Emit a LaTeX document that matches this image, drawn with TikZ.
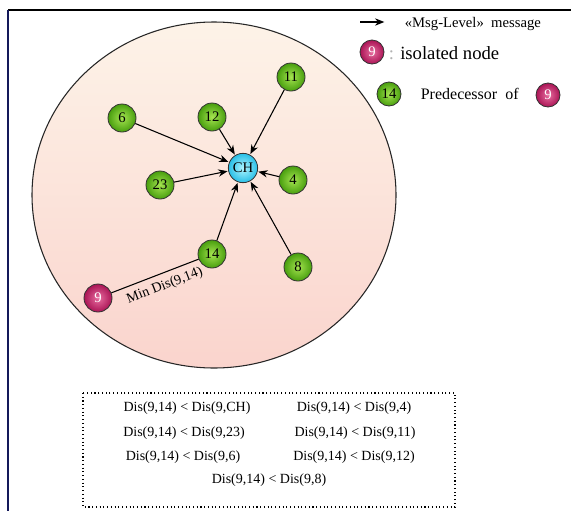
\documentclass[tikz,border=0pt]{standalone}
\usepackage{fontspec}
\setmainfont{Liberation Serif}
\usetikzlibrary{arrows.meta}

\begin{document}
\begin{tikzpicture}[x=0.75pt,y=-0.75pt,line width=0.6pt,
  pred/.style={circle,draw=black!80,inner sep=0pt,minimum size=21pt,
    inner color={rgb,255:red,165;green,228;blue,80},
    outer color={rgb,255:red,72;green,158;blue,14},font=\fontsize{11}{13}\selectfont},
  iso/.style={circle,draw=black!80,inner sep=0pt,minimum size=21pt,text=white,
    inner color={rgb,255:red,232;green,110;blue,160},
    outer color={rgb,255:red,170;green,20;blue,85},font=\fontsize{11}{13}\selectfont},
  head/.style={circle,draw=black!80,inner sep=0pt,minimum size=22pt,
    inner color={rgb,255:red,175;green,245;blue,255},
    outer color={rgb,255:red,40;green,190;blue,230},font=\fontsize{11}{13}\selectfont},
  msg/.style={line width=0.8pt,-{Stealth[length=7pt,width=5.5pt]},shorten >=0.5pt},
  rel/.style={font=\fontsize{10.5}{12}\selectfont}]
  \useasboundingbox (0,0) rectangle (571,511);
  % frame
  \draw[line width=1.6pt] (8,10) -- (571,10);
  \draw[line width=1.2pt,color={rgb,255:red,20;green,25;blue,90}] (8,10) -- (8,511);
  % cluster area
  \shade[top color={rgb,255:red,253;green,243;blue,232},bottom color={rgb,255:red,250;green,212;blue,205}]
    (214,195) ellipse (182 and 173);
  \draw[black!85,line width=0.8pt] (214,195) ellipse (182 and 173);
  % nodes
  \node[head] (ch) at (243,168) {CH};
  \node[pred] (n6) at (122,118) {6};
  \node[pred] (n12) at (212,117) {12};
  \node[pred] (n11) at (291,77) {11};
  \node[pred] (n4) at (293,180) {4};
  \node[pred] (n23) at (160,185) {23};
  \node[pred] (n14) at (212,254) {14};
  \node[pred] (n8) at (298,267) {8};
  \node[iso] (n9) at (98,298) {9};
  % messages
  \foreach \s in {n6,n12,n11,n4,n23,n14,n8}
    \draw[msg] (\s) -- (ch);
  \draw[line width=0.8pt] (n9) -- (n14) node[pos=0.56,sloped,below=1pt,rel] {Min Dis(9,14)};
  % legend
  \coordinate (la) at (360,22);
  \coordinate (lb) at (385,22);
  \draw[msg] (la) -- (lb);
  \node[anchor=west,font=\fontsize{11}{13}\selectfont] (lmsg) at (400,24) {«Msg-Level»\ \ message};
  \node[iso,minimum size=18pt] (liso) at (372,52) {9};
  \node[anchor=west,font=\fontsize{14}{16}\selectfont] (ltxt) at (384,53) {\textcolor{black!30}{:} isolated node};
  \node[pred,minimum size=18pt] (lpred) at (389,94) {14};
  \node[anchor=west,font=\fontsize{12}{14}\selectfont] (lptxt) at (416,94) {Predecessor\ \ of};
  \node[iso,minimum size=18pt] (lpiso) at (548,95) {9};
  % distances
  \draw[dotted,line width=0.8pt] (83,393) rectangle (455,507);
  \node[rel] (r1) at (187,408) {Dis(9,14) < Dis(9,CH)};
  \node[rel] (r2) at (354,408) {Dis(9,14) < Dis(9,4)};
  \node[rel] (r3) at (184,433) {Dis(9,14) < Dis(9,23)};
  \node[rel] (r4) at (355,433) {Dis(9,14) < Dis(9,11)};
  \node[rel] (r5) at (183,457) {Dis(9,14) < Dis(9,6)};
  \node[rel] (r6) at (354,457) {Dis(9,14) < Dis(9,12)};
  \node[rel] (r7) at (269,480) {Dis(9,14) < Dis(9,8)};
\end{tikzpicture}
\end{document}
